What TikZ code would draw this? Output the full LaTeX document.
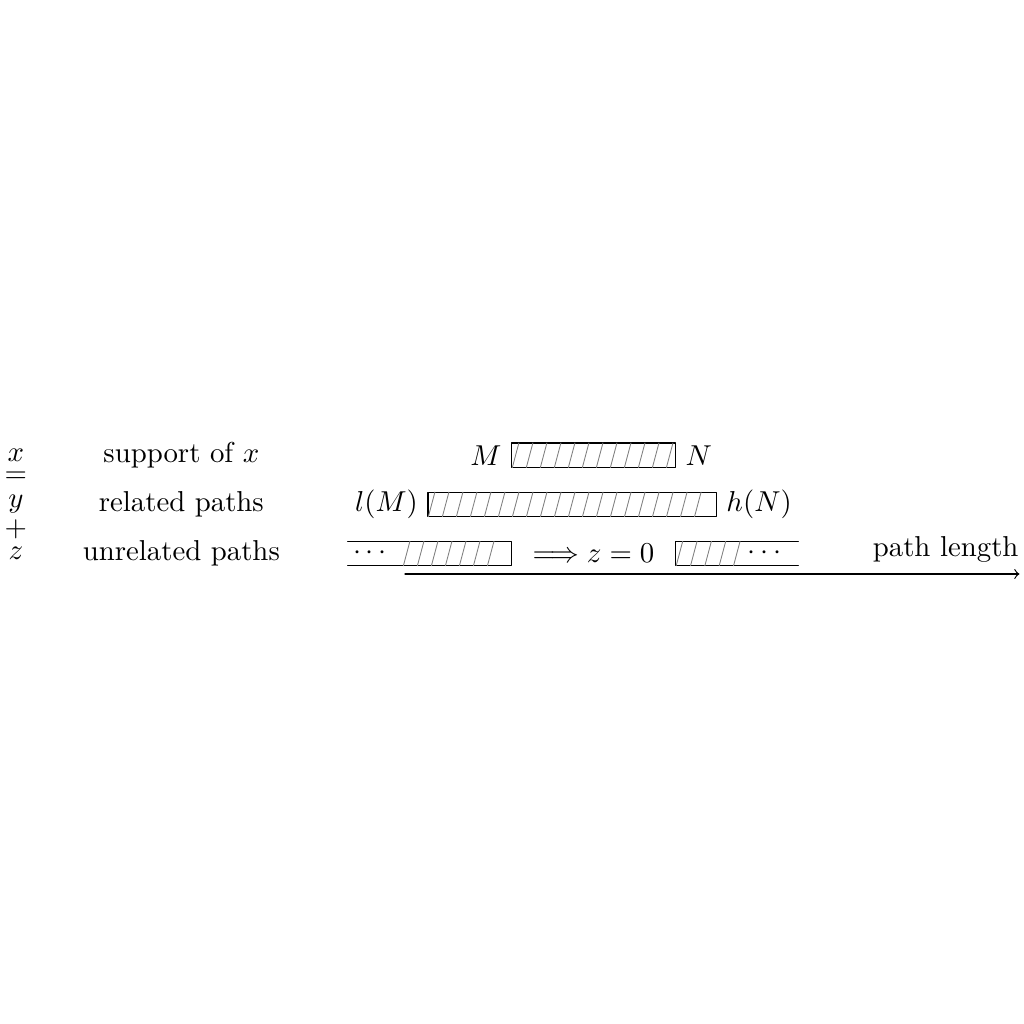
\documentclass[tikz,border=0pt]{standalone}
\usepackage{amsmath}
\usepackage{tikz}
\usetikzlibrary{arrows}
\newcommand{\HatchColor}{gray}

\begin{document}
\begin{tikzpicture}[line cap=round,line join=round,>=to
  ,x=1.0cm,y=1.0cm]
  \useasboundingbox (-4.944,-5.493) rectangle (7.556,7.007);
  % support of x
  \draw (1.3,1.3) rectangle (3.3,1.6);
  \foreach \k in {0,...,11}
    \draw [color=\HatchColor,line width=0.3pt] ({1.31+0.171*\k},1.3) -- ({1.39+0.171*\k},1.6);
  % related paths
  \draw (0.28,0.7) rectangle (3.8,1.0);
  \foreach \k in {0,...,19}
    \draw [color=\HatchColor,line width=0.3pt] ({0.285+0.171*\k},0.7) -- ({0.365+0.171*\k},1.0);
  % unrelated paths
  \draw (-0.7,0.4) -- (1.3,0.4) -- (1.3,0.1) -- (-0.7,0.1);
  \foreach \k in {0,...,6}
    \draw [color=\HatchColor,line width=0.3pt] ({-0.02+0.171*\k},0.1) -- ({0.06+0.171*\k},0.4);
  \draw (4.8,0.4) -- (3.3,0.4) -- (3.3,0.1) -- (4.8,0.1);
  \foreach \k in {0,...,4}
    \draw [color=\HatchColor,line width=0.3pt] ({3.31+0.175*\k},0.1) -- ({3.39+0.175*\k},0.4);
  % axis
  \coordinate (O) at (0,0);
  \coordinate (E) at (7.5,0);
  \draw [->] (O) -- (E);
  \draw (6.6,0.3) node (len) {path length};
  % labels
  \draw (1.3,1.45) node[anchor=east] (M) {$M$};
  \draw (3.3,1.45) node[anchor=west] (N) {$N$};
  \draw (0.28,0.85) node[anchor=east] (lM) {$l(M)$};
  \draw (3.8,0.85) node[anchor=west] (hN) {$h(N)$};
  \draw (-0.4,0.25) node (dl) {$\cdots$};
  \draw (4.42,0.25) node (dr) {$\cdots$};
  \draw (2.3,0.25) node (zero) {$\Longrightarrow z=0$};
  \draw (-2.73,1.45) node (sup) {support of $x$};
  \draw (-2.73,0.85) node (rel) {related paths};
  \draw (-2.73,0.25) node (unrel) {unrelated paths};
  \draw (-4.75,1.45) node[inner sep=0pt] (x) {$x$};
  \draw (-4.75,1.18) node[inner sep=0pt] (eq) {$=$};
  \draw (-4.75,0.85) node[inner sep=0pt] (y) {$y$};
  \draw (-4.75,0.54) node[inner sep=0pt] (pl) {$+$};
  \draw (-4.75,0.25) node[inner sep=0pt] (z) {$z$};
\end{tikzpicture}
\end{document}
